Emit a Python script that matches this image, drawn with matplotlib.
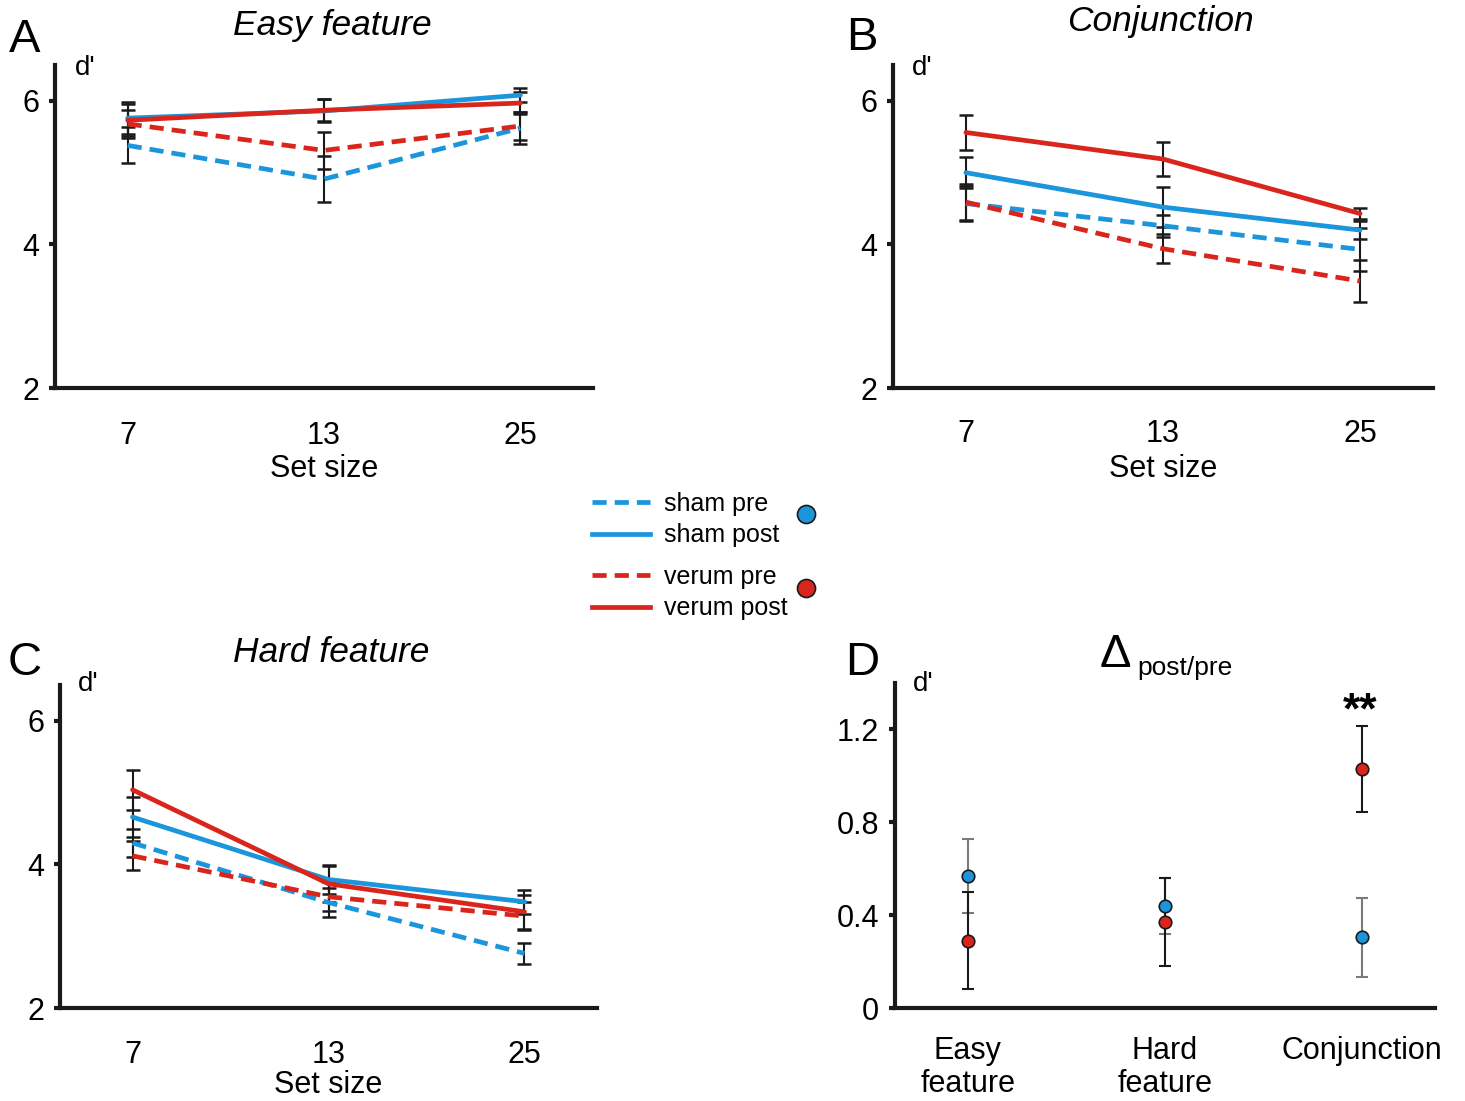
import matplotlib
matplotlib.use("Agg")
import matplotlib.pyplot as plt
from matplotlib.lines import Line2D
import numpy as np

plt.rcParams['font.family'] = ['Liberation Sans', 'DejaVu Sans']

# ---------------- data ----------------
set_sizes = ["7", "13", "25"]

easy_sham_pre = [5.38, 4.91, 5.62]
easy_sham_pre_err = [0.25, 0.32, 0.22]
easy_sham_post = [5.76, 5.86, 6.08]
easy_sham_post_err = [0.22, 0.16, 0.10]
easy_verum_pre = [5.68, 5.31, 5.65]
easy_verum_pre_err = [0.20, 0.26, 0.20]
easy_verum_post = [5.73, 5.87, 5.97]
easy_verum_post_err = [0.22, 0.15, 0.15]

conj_sham_pre = [4.57, 4.26, 3.93]
conj_sham_pre_err = [0.25, 0.15, 0.30]
conj_sham_post = [5.00, 4.52, 4.20]
conj_sham_post_err = [0.22, 0.28, 0.12]
conj_verum_pre = [4.59, 3.94, 3.49]
conj_verum_pre_err = [0.25, 0.20, 0.29]
conj_verum_post = [5.56, 5.19, 4.43]
conj_verum_post_err = [0.24, 0.24, 0.08]

hard_sham_pre = [4.30, 3.47, 2.76]
hard_sham_pre_err = [0.20, 0.20, 0.15]
hard_sham_post = [4.66, 3.79, 3.48]
hard_sham_post_err = [0.28, 0.20, 0.17]
hard_verum_pre = [4.12, 3.55, 3.28]
hard_verum_pre_err = [0.20, 0.20, 0.20]
hard_verum_post = [5.04, 3.73, 3.34]
hard_verum_post_err = [0.28, 0.25, 0.24]

delta_categories = ["Easy\nfeature", "Hard\nfeature", "Conjunction"]
delta_sham = [0.57, 0.44, 0.305]
delta_sham_err = [0.16, 0.12, 0.17]
delta_verum = [0.29, 0.37, 1.03]
delta_verum_err = [0.21, 0.19, 0.185]

# ---------------- style ----------------
BLUE = '#1B95DB'
RED = '#DA251D'
LW = 3.4
DASH = (3.0, 1.7)
W, H = 1465, 1101

fig = plt.figure(figsize=(W / 100, H / 100), dpi=100)


def fx(px):
    return px / W


def fy(py):
    return 1 - py / H


def add_axes(l, t, r, b):
    return fig.add_axes([fx(l), fy(b), fx(r) - fx(l), fy(t) - fy(b)])


def style_axes(ax, ylim, yticks, yticklabels):
    for s in ['top', 'right']:
        ax.spines[s].set_visible(False)
    for s in ['left', 'bottom']:
        ax.spines[s].set_linewidth(3)
        ax.spines[s].set_color('#1a1a1a')
    ax.set_ylim(*ylim)
    ax.set_xlim(-0.37, 2.37)
    ax.set_yticks(yticks)
    ax.set_yticklabels(yticklabels)
    ax.tick_params(axis='y', direction='out', length=4.5, width=3, pad=7,
                   labelsize=22, color='#1a1a1a')
    ax.tick_params(axis='x', length=0, pad=24, labelsize=22)


def line_panel(ax, series, xpad=24, lpad=2):
    x = np.arange(len(set_sizes))
    for vals, errs, color, dashed in series:
        ax.errorbar(x, vals, yerr=errs, fmt='none', ecolor='#1a1a1a',
                    elinewidth=1.5, capsize=5, capthick=1.8, zorder=2)
    for vals, errs, color, dashed in series:
        ln, = ax.plot(x, vals, color=color, lw=LW, zorder=3,
                      solid_capstyle='round')
        if dashed:
            ln.set_dashes(DASH)
            ln.set_dash_capstyle('butt')
    ax.set_xticks(x)
    ax.set_xticklabels(set_sizes)
    ax.tick_params(axis='x', pad=xpad)
    ax.set_xlabel("Set size", fontsize=22, labelpad=lpad)


# Panel A
axA = add_axes(55, 65, 593, 388)
style_axes(axA, (2, 6.5), [2, 4, 6], ["2", "4", "6"])
line_panel(axA, [
    (easy_sham_pre, easy_sham_pre_err, BLUE, True),
    (easy_verum_pre, easy_verum_pre_err, RED, True),
    (easy_sham_post, easy_sham_post_err, BLUE, False),
    (easy_verum_post, easy_verum_post_err, RED, False),
])

# Panel B
axB = add_axes(893, 65, 1433, 388)
style_axes(axB, (2, 6.5), [2, 4, 6], ["2", "4", "6"])
line_panel(axB, [
    (conj_sham_pre, conj_sham_pre_err, BLUE, True),
    (conj_verum_pre, conj_verum_pre_err, RED, True),
    (conj_sham_post, conj_sham_post_err, BLUE, False),
    (conj_verum_post, conj_verum_post_err, RED, False),
], xpad=22, lpad=4)

# Panel C
axC = add_axes(60, 685, 597, 1008)
style_axes(axC, (2, 6.5), [2, 4, 6], ["2", "4", "6"])
line_panel(axC, [
    (hard_sham_pre, hard_sham_pre_err, BLUE, True),
    (hard_verum_pre, hard_verum_pre_err, RED, True),
    (hard_sham_post, hard_sham_post_err, BLUE, False),
    (hard_verum_post, hard_verum_post_err, RED, False),
], xpad=23, lpad=0)

# Panel D
axD = add_axes(895, 683, 1435, 1008)
style_axes(axD, (0, 1.4), [0, 0.4, 0.8, 1.2], ["0", "0.4", "0.8", "1.2"])
xd = np.arange(len(delta_categories))
axD.errorbar(xd, delta_sham, yerr=delta_sham_err, fmt='none', ecolor='#7a7a7a',
             elinewidth=1.5, capsize=4.5, capthick=1.5, zorder=2)
axD.errorbar(xd, delta_verum, yerr=delta_verum_err, fmt='none', ecolor='#1a1a1a',
             elinewidth=1.5, capsize=4.5, capthick=1.5, zorder=2)
axD.plot(xd, delta_sham, 'o', ms=9, mfc=BLUE, mec='#1a1a1a', mew=1.2, zorder=4)
axD.plot(xd, delta_verum, 'o', ms=9, mfc=RED, mec='#1a1a1a', mew=1.2, zorder=4)
axD.set_xticks(xd)
axD.set_xticklabels(delta_categories, linespacing=1.12)
axD.tick_params(axis='x', pad=20)

# ---------------- texts ----------------
for lab, (px, py) in {"A": (25, 40), "B": (862, 38), "C": (25, 663), "D": (862, 663)}.items():
    fig.text(fx(px), fy(py), lab, fontsize=34, ha='center', va='center')

for (px, py) in [(85, 68), (922, 68), (88, 684), (923, 684)]:
    fig.text(fx(px), fy(py), "d'", fontsize=20, ha='center', va='center')

fig.text(fx(332), fy(25), "Easy feature", fontsize=25.5, style='italic', ha='center', va='center')
fig.text(fx(1160), fy(22), "Conjunction", fontsize=25.5, style='italic', ha='center', va='center')
fig.text(fx(331), fy(652), "Hard feature", fontsize=25.5, style='italic', ha='center', va='center')
fig.text(fx(1115), fy(655), "Δ", fontsize=34, ha='center', va='center')
fig.text(fx(1137), fy(668), "post/pre", fontsize=19, ha='left', va='center')
fig.text(fx(1360), fy(712), "**", fontsize=32, fontweight='bold', ha='center', va='center')

# ---------------- legend ----------------
leg_kw = dict(frameon=False, fontsize=18, handlelength=2.3, handletextpad=0.6,
              labelspacing=0.3, borderpad=0, borderaxespad=0, loc='upper left')
sham_handles = [Line2D([], [], color=BLUE, lw=LW, dashes=DASH),
                Line2D([], [], color=BLUE, lw=LW)]
verum_handles = [Line2D([], [], color=RED, lw=LW, dashes=DASH),
                 Line2D([], [], color=RED, lw=LW)]
l1 = fig.legend(sham_handles, ["sham pre", "sham post"],
                bbox_to_anchor=(fx(592), fy(492)), **leg_kw)
l2 = fig.legend(verum_handles, ["verum pre", "verum post"],
                bbox_to_anchor=(fx(592), fy(565)), **leg_kw)
dot_kw = dict(frameon=False, fontsize=18, handlelength=1, handletextpad=0,
              borderpad=0, borderaxespad=0, loc='center')
fig.legend([Line2D([], [], ls='', marker='o', ms=13, mfc=BLUE, mec='#1a1a1a', mew=1.2)], [""],
           bbox_to_anchor=(fx(806), fy(516)), **dot_kw)
fig.legend([Line2D([], [], ls='', marker='o', ms=13, mfc=RED, mec='#1a1a1a', mew=1.2)], [""],
           bbox_to_anchor=(fx(806), fy(590)), **dot_kw)

fig.savefig("out.png", dpi=100)
